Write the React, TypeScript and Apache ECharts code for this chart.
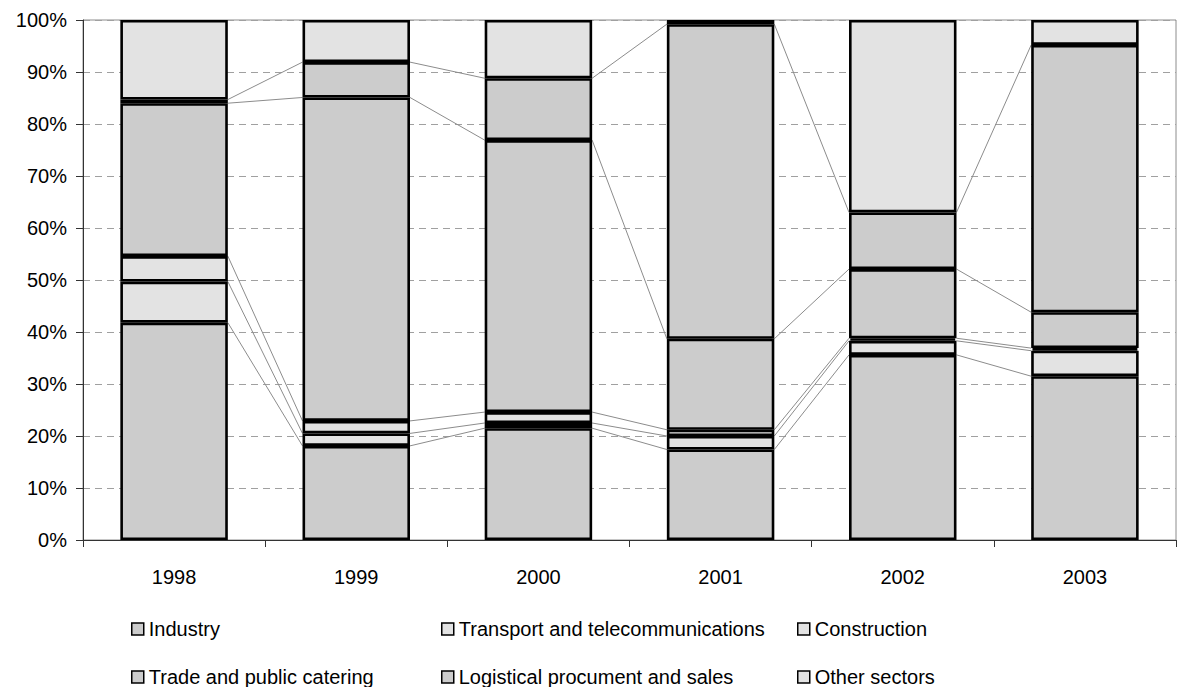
import React, { useEffect, useRef } from "react";
import * as echarts from "echarts";

const years = ["1998", "1999", "2000", "2001", "2002", "2003"];
const industry = [41.8, 18.1, 21.5, 17.4, 35.6, 31.5];
const transport = [7.9, 2.4, 1.0, 2.6, 2.7, 4.9];
const construction = [4.9, 2.4, 2.1, 1.2, 0.5, 0.5];
const trade = [29.4, 62.2, 52.3, 17.5, 13.3, 6.9];
const logistical = [0.7, 6.8, 11.9, 60.5, 10.9, 51.4];
const other = [15.3, 8.1, 11.2, 0.8, 37.0, 4.8];

const seriesNames = [
  "Industry",
  "Transport and telecommunications",
  "Construction",
  "Trade and public catering",
  "Logistical procument and sales",
  "Other sectors",
];
const seriesData = [industry, transport, construction, trade, logistical, other];
const DARK = "#CCCCCC";
const LIGHT = "#E3E3E3";
const seriesColors = [DARK, LIGHT, LIGHT, DARK, DARK, LIGHT];

const FONT = "Liberation Sans, Arial, sans-serif";
const BAR_RATIO = 0.59;

// legend placement: column lefts and row tops
const legendLefts = [131, 441, 797];
const legendTops = [619, 667];

export default function App() {
  const ref = useRef<HTMLDivElement>(null);
  useEffect(() => {
    if (!ref.current) return;
    const chart = echarts.init(ref.current, undefined, { renderer: "svg" });

    // cumulative tops of each series per category
    const cum: number[][] = [];
    seriesData.forEach((arr, k) => {
      cum.push(arr.map((v, i) => (k === 0 ? 0 : cum[k - 1][i]) + v));
    });
    const connectorData: number[][] = [];
    for (let k = 0; k < seriesData.length - 1; k++) {
      for (let i = 0; i < years.length - 1; i++) {
        connectorData.push([i, cum[k][i], cum[k][i + 1]]);
      }
    }

    const bars = seriesNames.map((name, k) => ({
      name,
      type: "bar",
      stack: "total",
      barWidth: BAR_RATIO * 100 + "%",
      data: seriesData[k],
      itemStyle: { color: seriesColors[k], borderColor: "#000", borderWidth: 2.6 },
      emphasis: { disabled: true },
    }));

    const legends = seriesNames.map((name, k) => ({
      orient: "horizontal",
      left: legendLefts[k % 3],
      top: legendTops[Math.floor(k / 3)],
      itemWidth: 12,
      itemHeight: 12,
      padding: 0,
      icon: "rect",
      selectedMode: false,
      data: [name],
      itemStyle: { borderColor: "#000", borderWidth: 1.5 },
      textStyle: { fontFamily: FONT, fontSize: 20, color: "#000", lineHeight: 20 },
    }));

    chart.setOption({
      animation: false,
      grid: {
        left: 83,
        right: 1,
        top: 20,
        bottom: 147,
        show: true,
        borderColor: "#8c8c8c",
        borderWidth: 1,
        containLabel: false,
      },
      legend: legends,
      xAxis: {
        type: "category",
        data: years,
        axisLine: { lineStyle: { color: "#333", width: 1 } },
        axisTick: { show: true, length: 7, lineStyle: { color: "#333" } },
        axisLabel: { fontFamily: FONT, fontSize: 20, color: "#000", margin: 27 },
      },
      yAxis: {
        type: "value",
        min: 0,
        max: 100,
        interval: 10,
        axisLine: { show: true, lineStyle: { color: "#333", width: 1 } },
        axisTick: { show: true, length: 7, lineStyle: { color: "#333" } },
        axisLabel: {
          fontFamily: FONT,
          fontSize: 20,
          color: "#000",
          margin: 16,
          formatter: "{value}%",
        },
        splitLine: {
          show: true,
          lineStyle: { color: "#a0a0a0", type: [7, 5], width: 1 },
        },
      },
      series: [
        ...bars,
        {
          type: "custom",
          name: "connectors",
          silent: true,
          z: 1,
          data: connectorData,
          encode: { x: 0, y: 1 },
          renderItem: (params: any, api: any) => {
            const i = api.value(0);
            const a = api.coord([i, api.value(1)]);
            const b = api.coord([i + 1, api.value(2)]);
            const half = (api.size([1, 0])[0] * BAR_RATIO) / 2;
            return {
              type: "line",
              shape: { x1: a[0] + half, y1: a[1], x2: b[0] - half, y2: b[1] },
              style: { stroke: "#8c8c8c", lineWidth: 1 },
            };
          },
        },
      ],
    });
    return () => chart.dispose();
  }, []);
  return (
    <div
      ref={ref}
      style={{ position: "fixed", left: 0, top: 0, width: 1177, height: 687, background: "#fff" }}
    />
  );
}
